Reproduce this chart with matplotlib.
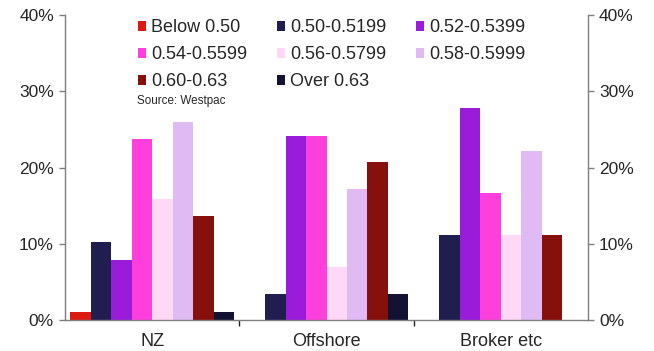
import matplotlib
matplotlib.use("Agg")
import matplotlib.pyplot as plt
from matplotlib.patches import Patch
from matplotlib.ticker import FuncFormatter, FixedLocator
import numpy as np

plt.rcParams['font.family'] = ['Liberation Sans', 'DejaVu Sans']

categories = ["NZ", "Offshore", "Broker etc"]
series_names = ["Below 0.50", "0.50-0.5199", "0.52-0.5399", "0.54-0.5599",
                "0.56-0.5799", "0.58-0.5999", "0.60-0.63", "Over 0.63"]
series_colors = ["#dc1a14", "#201d4f", "#9a1bd9", "#ff3fdc",
                 "#ffd8f6", "#e0bbf3", "#86100c", "#141233"]

below_050 = [1.1, 0.0, 0.0]
r050_0519 = [10.2, 3.45, 11.1]
r052_0539 = [7.9, 24.1, 27.8]
r054_0559 = [23.7, 24.1, 16.7]
r056_0579 = [15.9, 6.9, 11.1]
r058_0599 = [26.0, 17.2, 22.2]
r060_063 = [13.6, 20.7, 11.1]
over_063 = [1.1, 3.45, 0.0]
series_values = [below_050, r050_0519, r052_0539, r054_0559,
                 r056_0579, r058_0599, r060_063, over_063]

yticks = [0, 10, 20, 30, 40]

fig = plt.figure(figsize=(6.54, 3.51), dpi=100)
ax = fig.add_axes([0.0994, 0.0883, 0.7997, 0.8687])

centers = np.arange(len(categories)) + 0.5
width = 0.1175
n = len(series_names)
for i, (vals, col) in enumerate(zip(series_values, series_colors)):
    ax.bar(centers + (i - (n - 1) / 2) * width, vals, width=width,
           color=col, linewidth=0)

ax.set_xlim(0, 3)
ax.set_ylim(0, 40)

spine_col = "#7f7f7f"
for s in ["left", "right", "bottom"]:
    ax.spines[s].set_color(spine_col)
    ax.spines[s].set_linewidth(1.0)
ax.spines["top"].set_visible(False)

ax.set_yticks(yticks)
ax.yaxis.set_major_formatter(FuncFormatter(lambda v, p: f"{v:.0f}%"))
ax.tick_params(axis="y", which="both", left=True, right=True,
               labelleft=True, labelright=True, length=4, width=1,
               color=spine_col, labelsize=12.5, labelcolor="#262626", pad=4)

ax.xaxis.set_major_locator(FixedLocator([1, 2]))
ax.xaxis.set_major_formatter(FuncFormatter(lambda v, p: ""))
ax.xaxis.set_minor_locator(FixedLocator(list(centers)))
ax.set_xticklabels(categories, minor=True)
ax.tick_params(axis="x", which="major", length=4, width=1, color="#262626",
               direction="out")
ax.tick_params(axis="x", which="minor", length=0, labelsize=13,
               labelcolor="#262626", pad=9)

order = [0, 3, 6, 1, 4, 7, 2, 5]
handles = [Patch(facecolor=series_colors[k], edgecolor="none") for k in order]
labels = [series_names[k] for k in order]
ax.legend(handles, labels, ncol=3, loc="upper left",
          bbox_to_anchor=(0.125, 1.01), frameon=False, fontsize=13,
          handlelength=0.45, handleheight=0.45, handletextpad=0.3,
          columnspacing=1.62, labelspacing=0.55, borderaxespad=0,
          labelcolor="#262626")

fig.text(0.2095, 0.712, "Source: Westpac", fontsize=8.4, color="#262626",
         ha="left", va="center")

fig.savefig("out.png", dpi=100)
